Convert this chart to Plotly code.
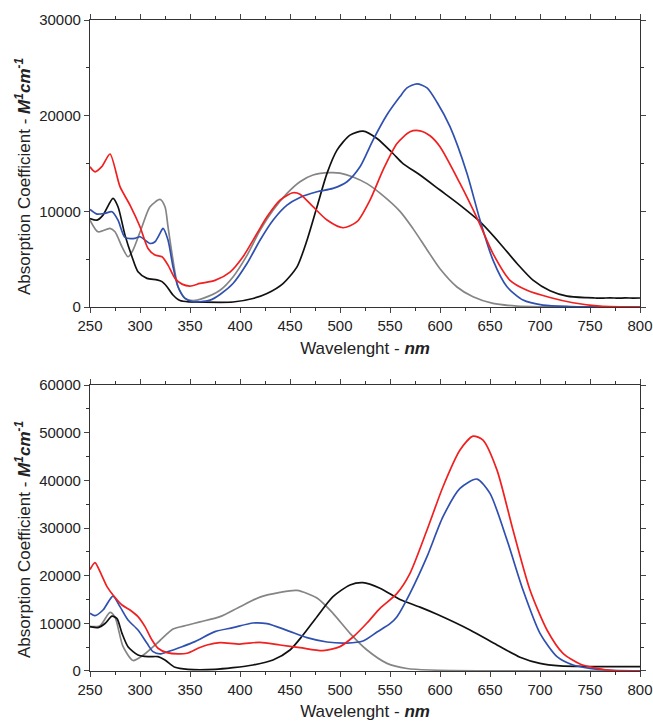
import plotly.graph_objects as go

# ---------------- Top panel data ----------------
top_black_x = [250,257,263,273,278,285,292,298,307,317,322,327,333,340,350,360,393,413,427,443,457,467,477,487,497,510,523,537,553,563,580,600,620,640,660,677,693,710,727,747,755,762,770,778,785,793,800]
top_black_y = [9260,9090,9610,11350,10480,7520,5260,3690,3000,2840,2660,2130,1260,680,540,520,530,900,1420,2460,4200,6990,10480,13970,16400,17970,18390,17620,16050,15000,13800,12230,10660,8920,6650,4560,2820,1710,1150,980,950,930,970,930,960,940,950]

top_blue_x = [250,257,265,272,278,285,295,300,310,315,320,323,328,333,338,345,353,360,370,380,393,407,420,433,447,460,477,493,507,520,533,547,560,567,577,587,597,610,627,640,653,667,683,703,730,760,800]
top_blue_y = [10200,9720,9800,9960,9090,7280,7180,7350,6650,6830,7700,8220,7000,4220,2130,910,560,560,730,1320,2460,4550,6990,9080,10660,11460,12050,12400,13100,14660,17450,20100,22000,22900,23330,22900,21400,18850,13970,9090,4910,2120,730,210,60,20,0]

top_red_x = [250,255,262,270,280,290,300,308,315,322,328,335,342,350,360,375,390,403,417,427,440,453,460,473,487,503,517,530,543,557,570,580,590,600,620,638,653,670,687,710,733,760,800]
top_red_y = [14660,14140,14700,16000,12580,10660,8400,6130,5440,5260,4390,3000,2400,2200,2470,2790,3660,5260,7700,9440,11180,11950,11800,10490,9100,8290,8920,11180,14320,17100,18320,18420,17900,16750,12920,9090,5590,2800,1760,1000,450,100,0]

top_gray_x = [250,258,270,275,282,288,293,302,310,320,325,328,333,338,345,353,363,380,393,407,420,433,447,460,473,490,500,513,527,540,560,573,587,600,617,633,653,677,700,800]
top_gray_y = [9090,7870,8220,7870,6300,5260,5960,8400,10480,11250,10480,8400,4910,2130,910,670,910,1760,3150,5400,8010,10120,11880,13100,13800,14050,14000,13600,12900,11900,10000,8200,6000,4000,2100,1080,380,100,30,0]

# ---------------- Bottom panel data ----------------
bot_black_x = [250,258,265,272,277,282,288,298,308,318,325,335,348,375,393,413,433,450,463,477,493,510,523,540,560,580,597,630,657,680,700,720,747,770,800]
bot_black_y = [9300,9090,9960,11500,11000,7900,5100,3360,3010,3010,2310,770,350,350,700,1260,2310,4410,7550,11400,15600,18050,18540,17360,15000,13400,11900,8610,5470,2900,1600,1080,940,920,900]

bot_blue_x = [250,255,263,273,280,288,298,307,313,320,328,342,355,375,393,413,427,447,467,487,507,523,537,550,557,570,587,603,620,637,650,667,683,700,717,733,750,767,800]
bot_blue_y = [12100,11610,12800,15730,13500,10700,8600,5800,4060,3580,4060,5100,6160,8260,9090,10070,9930,8530,6990,6080,5870,6290,8180,9930,11400,16290,23980,32370,38310,40270,37260,27480,16990,7900,3000,1260,560,210,50]

bot_red_x = [250,255,260,267,273,282,290,298,305,312,318,327,338,347,358,367,380,400,420,440,460,483,500,513,527,540,557,570,587,603,620,633,643,657,673,690,707,723,740,757,773,800]
bot_red_y = [21300,22750,20840,17690,15940,13850,12800,11400,9300,6500,4770,3850,3580,3720,4770,5450,5950,5660,6020,5450,4900,4270,5110,7130,10070,13140,16290,20490,29570,38660,46350,49280,48440,42150,29570,16990,8600,3700,1460,560,70,0]

bot_gray_x = [250,260,270,275,283,293,303,320,333,347,360,380,400,420,440,457,477,493,510,527,547,567,590,650,800]
bot_gray_y = [9300,9500,12300,11300,5150,2200,3300,6400,8800,9600,10300,11400,13500,15500,16500,16900,15300,12100,7900,4400,1600,530,210,50,0]

x_ticks = [250, 300, 350, 400, 450, 500, 550, 600, 650, 700, 750, 800]
y_title_text = "Absorption Coefficient - <b><i>M<sup>1</sup>cm<sup>-1</sup></i></b>"
x_title_text = "Wavelenght - <b><i>nm</i></b>"

COL = {"black": "#111111", "blue": "#3050b0", "red": "#f02020", "gray": "#858585"}
FONT = "Liberation Sans, Arial, sans-serif"

fig = go.Figure()

def add(x, y, color, xa, ya):
    fig.add_trace(go.Scatter(x=x, y=y, mode="lines", xaxis=xa, yaxis=ya,
                             line=dict(color=color, width=1.7, shape="spline", smoothing=0.7),
                             showlegend=False, hoverinfo="skip"))

add(top_gray_x, top_gray_y, COL["gray"], "x", "y")
add(top_black_x, top_black_y, COL["black"], "x", "y")
add(top_blue_x, top_blue_y, COL["blue"], "x", "y")
add(top_red_x, top_red_y, COL["red"], "x", "y")

add(bot_gray_x, bot_gray_y, COL["gray"], "x2", "y2")
add(bot_black_x, bot_black_y, COL["black"], "x2", "y2")
add(bot_blue_x, bot_blue_y, COL["blue"], "x2", "y2")
add(bot_red_x, bot_red_y, COL["red"], "x2", "y2")

xtitle = dict(text=x_title_text, font=dict(size=17, family=FONT, color="#222"), standoff=8)

def xaxis(domain_anchor):
    return dict(range=[250, 800], tickvals=x_ticks, ticks="outside", ticklen=5, tickwidth=1.2,
                showline=True, linecolor="#333", linewidth=1.3, mirror="ticks", showgrid=False,
                zeroline=False, anchor=domain_anchor, automargin=False,
                minor=dict(dtick=25, tick0=250, ticks="outside", ticklen=3, tickcolor="#333"),
                tickfont=dict(size=15, family=FONT, color="#222"), title=xtitle)

def yaxis(domain, rng, dtick, anchor):
    return dict(domain=domain, range=rng, dtick=dtick, tick0=0, tickformat="d",
                ticks="outside", ticklen=5, tickwidth=1.2,
                showline=True, linecolor="#333", linewidth=1.3, mirror="ticks", showgrid=False,
                zeroline=False, anchor=anchor, automargin=False,
                minor=dict(dtick=dtick / 2, ticks="outside", ticklen=3, tickcolor="#333"),
                tickfont=dict(size=15, family=FONT, color="#222"))

fig.update_layout(
    width=653, height=721,
    margin=dict(l=90, r=13, t=20, b=50),
    paper_bgcolor="white", plot_bgcolor="white",
    xaxis=xaxis("y"),
    yaxis=yaxis([0.559, 1.0], [0, 30000], 10000, "x"),
    xaxis2=xaxis("y2"),
    yaxis2=yaxis([0.0, 0.4393], [0, 60000], 10000, "x2"),
)

# y-axis titles as rotated annotations (placed slightly below panel centre as in the original)
for ypix in (177, 540):
    fig.add_annotation(text=y_title_text, textangle=-90, showarrow=False,
                       xref="paper", yref="paper",
                       x=(23 - 90) / 550, y=(671 - ypix) / 651,
                       xanchor="center", yanchor="middle",
                       font=dict(size=17, family=FONT, color="#222"))

fig.write_html("out.html")
